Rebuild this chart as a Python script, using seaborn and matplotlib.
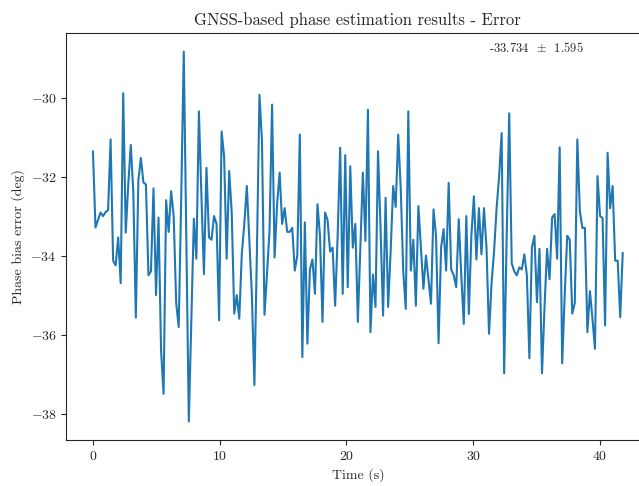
import matplotlib
matplotlib.use('Agg')
import matplotlib.pyplot as plt
import seaborn as sns
import numpy as np
import pandas as pd

# phase bias error samples (deg), evenly spaced in time
err = [
    -31.36, -33.29, -33.10, -32.91, -33.00, -32.90, -32.85, -31.06, -34.13, -34.25,
    -33.54, -34.70, -29.89, -33.42, -32.20, -31.20, -32.40, -35.57, -32.10, -31.53,
    -32.15, -32.20, -34.50, -34.40, -32.30, -35.00, -33.04, -36.40, -37.50, -32.60,
    -33.40, -32.37, -33.00, -35.20, -35.81, -32.50, -28.84, -33.50, -38.20, -35.60,
    -33.07, -34.08, -30.35, -32.50, -34.47, -31.78, -33.54, -33.60, -33.00, -33.20,
    -35.64, -30.86, -31.50, -34.08, -31.86, -32.90, -35.47, -35.00, -35.60, -33.96,
    -33.20, -32.24, -33.60, -35.00, -37.28, -33.90, -29.93, -31.10, -35.50, -34.46,
    -33.37, -30.18, -34.05, -32.70, -31.90, -33.20, -32.80, -33.40, -33.40, -33.30,
    -34.38, -34.00, -30.94, -36.57, -33.16, -36.23, -34.35, -34.10, -34.97, -32.70,
    -33.50, -35.68, -32.91, -33.10, -33.90, -33.80, -35.27, -33.50, -31.27, -34.97,
    -31.46, -34.80, -31.74, -33.80, -33.20, -35.68, -33.80, -31.90, -33.63, -30.31,
    -35.94, -34.48, -35.30, -31.36, -33.30, -35.52, -32.54, -35.30, -33.90, -32.24,
    -32.77, -30.94, -32.30, -34.40, -35.35, -30.35, -34.38, -33.60, -35.27, -32.75,
    -33.80, -34.84, -34.00, -34.60, -35.22, -32.83, -33.50, -36.22, -33.80, -33.33,
    -34.38, -32.16, -34.35, -34.50, -34.80, -33.08, -34.50, -35.73, -33.00, -35.48,
    -33.50, -32.50, -34.10, -32.80, -33.97, -32.80, -33.80, -35.98, -34.70, -33.90,
    -32.80, -32.00, -30.90, -36.98, -33.50, -30.40, -34.20, -34.40, -34.50, -34.30,
    -34.35, -33.97, -34.50, -36.60, -33.80, -33.50, -35.18, -33.83, -36.98, -35.30,
    -33.83, -34.60, -33.04, -32.95, -34.08, -31.26, -36.73, -35.00, -33.50, -33.60,
    -35.47, -35.20, -31.06, -32.87, -33.30, -33.30, -35.94, -34.90, -35.60, -36.36,
    -31.99, -33.00, -33.05, -35.77, -31.40, -32.80, -32.24, -34.13, -34.13, -35.56,
    -33.93,
]
dt = 0.199
stats_label = r'-33.734 $\,\pm\,$ 1.595'

df = pd.DataFrame({'Time': np.arange(len(err)) * dt, 'Error': err})

sns.set_style('ticks')
plt.rcParams['font.family'] = 'serif'
plt.rcParams['font.serif'] = ['cmr10', 'DejaVu Serif']
plt.rcParams['mathtext.fontset'] = 'cm'
plt.rcParams['axes.formatter.use_mathtext'] = True

fig = plt.figure(figsize=(6.39, 4.86), dpi=100)
# axes run past the right edge, like the cropped original
ax = fig.add_axes([0.104, 0.0947, 0.912, 0.837])

sns.lineplot(data=df, x='Time', y='Error', ax=ax, color='#1f77b4', linewidth=1.5)

ax.set_title('GNSS-based phase estimation results - Error', fontsize=12)
ax.set_xlabel('Time (s)', fontsize=10)
ax.set_ylabel('Phase bias error (deg)', fontsize=10)
ax.tick_params(labelsize=10)
ax.text(0.806, 0.963, stats_label, transform=ax.transAxes,
        ha='center', va='center', fontsize=9)

fig.savefig('out.png', dpi=100)
